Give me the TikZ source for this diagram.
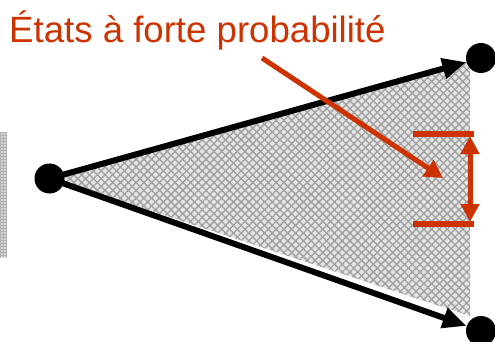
\documentclass[tikz,border=0pt]{standalone}
\usepackage{fontspec}
\setmainfont{Liberation Sans}
\usetikzlibrary{arrows.meta,patterns.meta}
\definecolor{redor}{RGB}{204,51,0}
\tikzset{
  x=1pt,y=-1pt,
  dot/.style={circle,fill=black,inner sep=0pt,minimum size=30pt},
  blackarrow/.style={line width=6pt,-{Triangle[length=24pt,width=20pt]}},
  redline/.style={line width=6pt,draw=redor},
  redarrow/.style={line width=5pt,draw=redor,-{Triangle[length=18pt,width=19pt]},color=redor},
  shade/.style={fill=gray!22,postaction={pattern={Lines[angle=45,distance=5.5pt,line width=1.3pt]},pattern color=gray!75},postaction={pattern={Lines[angle=-45,distance=5.5pt,line width=1.3pt]},pattern color=gray!75}},
  strip/.style={fill=gray!35,postaction={pattern={Lines[angle=0,distance=3pt,line width=0.6pt]},pattern color=gray!70},postaction={pattern={Lines[angle=90,distance=3pt,line width=0.4pt]},pattern color=gray!60}},
  title/.style={anchor=base west,inner sep=0pt,text=redor,font=\fontsize{36.6pt}{40pt}\selectfont}
}
\begin{document}
\begin{tikzpicture}
\useasboundingbox (0,0) rectangle (495,342);
% shaded region
\path[shade] (52,178) -- (470,61) -- (470,316) -- cycle;
% left strip
\path[strip] (0,133) rectangle (7,257);
% dots
\node[dot] (L) at (49.5,178.5) {};
\node[dot] (T) at (481,58) {};
\node[dot] (B) at (481,331) {};
% black arrows
\draw[blackarrow] (L.center) -- (T);
\draw[blackarrow] (L.center) -- (B);
% title
\node[title] (txt) at (9,43) {États à forte probabilité};
% red arrow
\coordinate (rs) at (262,58);
\coordinate (re) at (443,178);
\draw[redarrow] (rs) -- (re);
% bracket
\coordinate (h1a) at (413,134);
\coordinate (h1b) at (474,134);
\coordinate (h2a) at (413,224);
\coordinate (h2b) at (474,224);
\draw[redline] (h1a) -- (h1b);
\draw[redline] (h2a) -- (h2b);
\coordinate (v1) at (470,136);
\coordinate (v2) at (470,222);
\draw[line width=5pt,draw=redor,color=redor,{Triangle[length=18pt,width=18pt]}-{Triangle[length=18pt,width=18pt]}] (v1) -- (v2);
\end{tikzpicture}
\end{document}
